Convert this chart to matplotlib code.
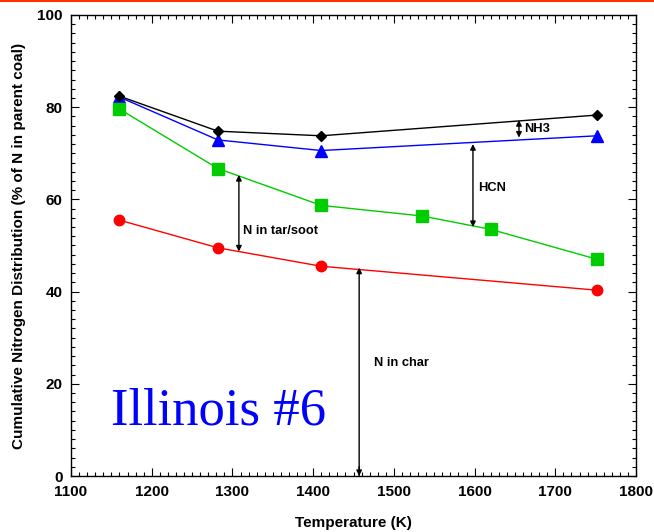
import matplotlib
matplotlib.use("Agg")
import matplotlib.pyplot as plt
from matplotlib.lines import Line2D
from matplotlib.ticker import MultipleLocator

# cumulative N distribution, % of N in parent coal
temp_total = [1160, 1282, 1410, 1752]
total_n = [82.4, 74.8, 73.8, 78.3]          # + NH3

temp_hcn = [1160, 1282, 1410, 1752]
hcn_cum = [82.2, 72.9, 70.6, 73.8]          # + HCN

temp_tar = [1160, 1282, 1410, 1535, 1620, 1752]
tar_cum = [79.6, 66.7, 58.7, 56.4, 53.5, 47.0]  # + tar/soot

temp_char = [1160, 1282, 1410, 1752]
char_n = [55.5, 49.5, 45.5, 40.3]           # char

plt.rcParams["font.family"] = ["Liberation Sans", "DejaVu Sans"]

fig = plt.figure(figsize=(6.54, 5.32), dpi=100)
ax = fig.add_axes([71 / 654, 1 - 476 / 532, 565 / 654, 461 / 532])

ax.plot(temp_total, total_n, color="black", lw=1, marker="D", ms=5.5, zorder=4)
ax.plot(temp_hcn, hcn_cum, color="#0000ff", lw=1, marker="^", ms=8, zorder=3)
ax.plot(temp_tar, tar_cum, color="#00cc00", lw=1, marker="s", ms=8.5, zorder=3)
ax.plot(temp_char, char_n, color="#ff0000", lw=1, marker="o", ms=7.5, zorder=3)


def span(x, y0, y1):
    ax.annotate("", xy=(x, y1), xytext=(x, y0),
                arrowprops=dict(arrowstyle="<|-|>", color="black", lw=1,
                                mutation_scale=8, shrinkA=0, shrinkB=0))


span(1308, 48.7, 65.3)
ax.text(1313, 53.1, "N in tar/soot", fontsize=9.3, fontweight="bold", va="center")
span(1598, 54.0, 72.0)
ax.text(1604, 62.5, "HCN", fontsize=9.3, fontweight="bold", va="center")
span(1655, 73.4, 77.2)
ax.text(1661, 75.3, "NH3", fontsize=9.3, fontweight="bold", va="center")
ax.annotate("", xy=(1457, 45.2), xytext=(1457, 0),
            arrowprops=dict(arrowstyle="-|>", color="black", lw=1,
                            mutation_scale=8, shrinkA=0, shrinkB=0))
ax.annotate("", xy=(1457, 0), xytext=(1457, 2),
            arrowprops=dict(arrowstyle="-|>", color="black", lw=1,
                            mutation_scale=8, shrinkA=0, shrinkB=0))
ax.text(1475, 24.6, "N in char", fontsize=9.3, fontweight="bold", va="center")

ax.text(1150, 11.1, "Illinois #6", fontsize=38, color="#0000ff",
        family="Liberation Serif", va="baseline")

ax.set_xlim(1100, 1800)
ax.set_ylim(0, 100)
ax.xaxis.set_major_locator(MultipleLocator(100))
ax.xaxis.set_minor_locator(MultipleLocator(10))
ax.yaxis.set_major_locator(MultipleLocator(20))
ax.yaxis.set_minor_locator(MultipleLocator(2))
ax.tick_params(which="both", direction="in", top=True, right=True, width=0.8)
ax.tick_params(which="major", length=6, labelsize=11)
ax.tick_params(axis="x", which="major", pad=6.5)
ax.tick_params(axis="y", which="major", pad=6)
ax.tick_params(which="minor", length=3)
for lab in ax.get_xticklabels() + ax.get_yticklabels():
    lab.set_fontweight("bold")
for s in ax.spines.values():
    s.set_linewidth(1)

ax.set_xlabel("Temperature (K)", fontsize=11, fontweight="bold", labelpad=12)
ax.set_ylabel("Cumulative Nitrogen Distribution (% of N in parent coal)",
              fontsize=11, fontweight="bold", labelpad=8)

# thin rule along the top edge
fig.add_artist(Line2D([0, 1], [0.998, 0.998], transform=fig.transFigure,
                      color="#ff3300", lw=1.5))

fig.savefig("out.png", dpi=100)
